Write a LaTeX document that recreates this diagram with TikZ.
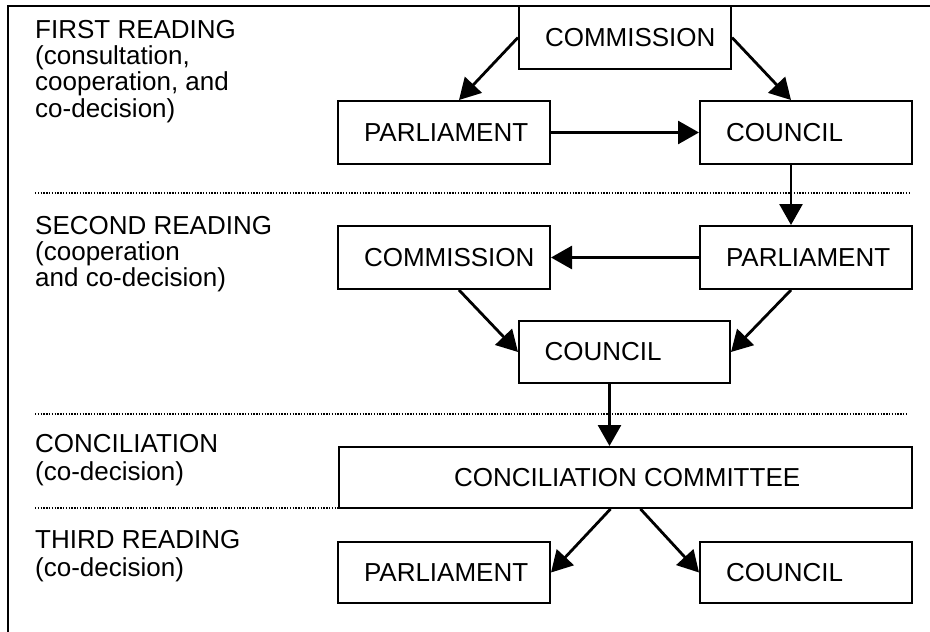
\documentclass[tikz,border=0pt]{standalone}
\usepackage{fontspec}
\setmainfont{Liberation Sans}
\usetikzlibrary{arrows.meta}

\begin{document}
\begin{tikzpicture}[x=1pt, y=-1pt,
  every node/.style={font=\fontsize{26pt}{26.3pt}\selectfont},
  % institution box: text set flush left with a fixed inset
  inst/.style={draw, line width=2pt, minimum width=212pt, minimum height=63pt,
    inner xsep=0pt, inner ysep=0pt, text width=160pt, align=flush left},
  wide/.style={draw, line width=2pt, minimum width=573pt, minimum height=61pt,
    inner xsep=0pt, inner ysep=0pt, text width=343pt, align=flush left},
  stage/.style={anchor=north west, inner sep=0pt, align=left},
  arr/.style={line width=2.8pt, -{Triangle[length=21pt,width=23pt]}},
  sep/.style={line width=1.6pt, dash pattern=on 1.4pt off 1.4pt}
]
\useasboundingbox (0,0) rectangle (930,632);

% outer frame (top and left edges only)
\draw[line width=2.5pt] (8,632) -- (8,6) -- (930,6);

% stage separators
\draw[sep] (35,193) -- (910,193);
\draw[sep] (35,414) -- (907,414);
\draw[sep] (35,508) -- (912,508);

% stage labels
\node[stage] (lab1) at (35,20) {FIRST READING\\(consultation,\\cooperation, and\\co-decision)};
\node[stage] (lab2) at (35,216) {SECOND READING\\(cooperation\\and co-decision)};
\node[stage] (lab3) at (35,434) {CONCILIATION\\[1.5pt](co-decision)};
\node[stage] (lab4) at (35,530) {THIRD READING\\[1.5pt](co-decision)};

% first reading
\node[inst] (com1) at (625,37.5)  {COMMISSION};
\node[inst] (par1) at (444,132.5) {PARLIAMENT};
\node[inst] (cou1) at (806,132.5) {COUNCIL};

% second reading
\node[inst] (com2) at (444,257.5) {COMMISSION};
\node[inst] (par2) at (806,257.5) {PARLIAMENT};
\node[inst, minimum width=211pt, minimum height=62pt] (cou2) at (624.5,352) {COUNCIL};

% conciliation
\node[wide] (cc) at (625.5,477.5) {\mbox{CONCILIATION COMMITTEE}};

% third reading
\node[inst, minimum height=61pt] (par3) at (444,572.5) {PARLIAMENT};
\node[inst, minimum height=61pt] (cou3) at (806,572.5) {COUNCIL};

% procedure flow
\draw[arr] (com1.west) -- ([xshift=15pt]par1.north);
\draw[arr] (com1.east) -- ([xshift=-15pt]cou1.north);
\draw[arr] (par1.east) -- (cou1.west);
\draw[arr] ([xshift=-15pt]cou1.south) -- ([xshift=-15pt]par2.north);
\draw[arr] (par2.west) -- (com2.east);
\draw[arr] ([xshift=15pt]com2.south) -- (cou2.west);
\draw[arr] ([xshift=-15pt]par2.south) -- (cou2.east);
\draw[arr] ([xshift=-15pt]cou2.south) -- ([xshift=-15pt]cou2.south |- cc.north);
\draw[arr] ([xshift=-15pt]cc.south) -- (par3.east);
\draw[arr] ([xshift=15pt]cc.south) -- (cou3.west);
\end{tikzpicture}
\end{document}
